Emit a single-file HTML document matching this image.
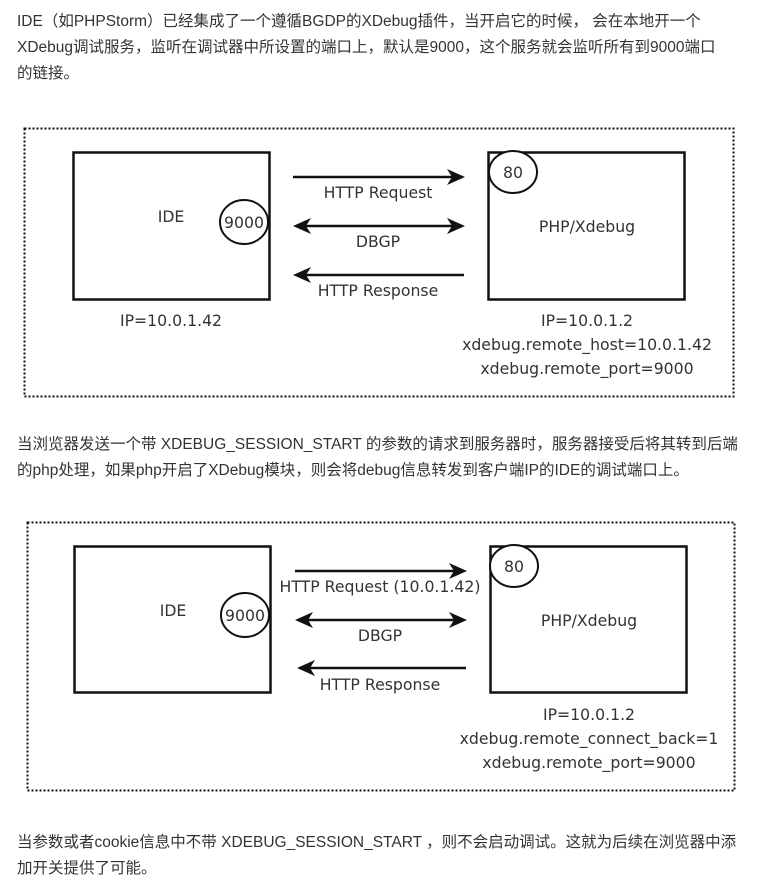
<!DOCTYPE html>
<html><head><meta charset="utf-8"><style>
html,body{margin:0;padding:0;background:#fff;width:761px;height:889px;overflow:hidden;position:relative}
.t{position:absolute;left:17px;font-family:"Liberation Sans","Noto Sans CJK SC",sans-serif;font-size:15.5px;color:#333;white-space:nowrap;line-height:20px}
svg{position:absolute;left:0;top:0}
svg text{font-family:"DejaVu Sans","Liberation Sans",sans-serif;font-size:15.7px;fill:#333}
</style></head><body>
<div class="t" style="top:12px">IDE（如PHPStorm）已经集成了一个遵循BGDP的XDebug插件，当开启它的时候， 会在本地开一个</div>
<div class="t" style="top:38px">XDebug调试服务，监听在调试器中所设置的端口上，默认是9000，这个服务就会监听所有到9000端口</div>
<div class="t" style="top:64px">的链接。</div>
<div class="t" style="top:435px">当浏览器发送一个带 XDEBUG_SESSION_START 的参数的请求到服务器时，服务器接受后将其转到后端</div>
<div class="t" style="top:461px">的php处理，如果php开启了XDebug模块，则会将debug信息转发到客户端IP的IDE的调试端口上。</div>
<div class="t" style="top:833px">当参数或者cookie信息中不带 XDEBUG_SESSION_START ，则不会启动调试。这就为后续在浏览器中添</div>
<div class="t" style="top:859px">加开关提供了可能。</div>
<svg width="761" height="889" viewBox="0 0 761 889">
<g stroke="#111" fill="none">
<rect x="24.5" y="128.5" width="709" height="268" stroke-width="2" stroke-dasharray="2,2"/>
<rect x="73.5" y="152.5" width="196" height="147" stroke-width="2.5"/>
<rect x="488.5" y="152.5" width="196" height="147" stroke-width="2.5"/>
<ellipse cx="244" cy="222" rx="24" ry="22" stroke-width="2" fill="#fff"/>
<ellipse cx="513" cy="172" rx="24" ry="21" stroke-width="2" fill="#fff"/>
<line x1="293" y1="177" x2="460" y2="177" stroke-width="2.5"/>
<line x1="298" y1="226" x2="460" y2="226" stroke-width="2.5"/>
<line x1="298" y1="275" x2="464" y2="275" stroke-width="2.5"/>
<rect x="27.5" y="522.5" width="707" height="268" stroke-width="2" stroke-dasharray="2,2"/>
<rect x="74.5" y="546.5" width="196" height="146" stroke-width="2.5"/>
<rect x="490.5" y="546.5" width="196" height="146" stroke-width="2.5"/>
<ellipse cx="245" cy="615" rx="24" ry="22" stroke-width="2" fill="#fff"/>
<ellipse cx="514" cy="566" rx="24" ry="21" stroke-width="2" fill="#fff"/>
<line x1="295" y1="571" x2="462" y2="571" stroke-width="2.5"/>
<line x1="300" y1="620" x2="462" y2="620" stroke-width="2.5"/>
<line x1="300" y1="668" x2="466" y2="668" stroke-width="2.5"/>
</g>
<g fill="#111">
<path d="M465 177 L447 169 L452 177 L447 185 Z"/>
<path d="M465 226 L447 218 L452 226 L447 234 Z"/>
<path d="M293 226 L311 218 L306 226 L311 234 Z"/>
<path d="M293 275 L311 267 L306 275 L311 283 Z"/>
<path d="M467 571 L449 563 L454 571 L449 579 Z"/>
<path d="M467 620 L449 612 L454 620 L449 628 Z"/>
<path d="M295 620 L313 612 L308 620 L313 628 Z"/>
<path d="M297 668 L315 660 L310 668 L315 676 Z"/>
</g>
<g text-anchor="middle">
<text x="171" y="222">IDE</text>
<text x="244" y="228">9000</text>
<text x="513" y="178">80</text>
<text x="587" y="232">PHP/Xdebug</text>
<text x="378" y="198">HTTP Request</text>
<text x="378" y="247">DBGP</text>
<text x="378" y="296">HTTP Response</text>
<text x="171" y="326">IP=10.0.1.42</text>
<text x="587" y="326">IP=10.0.1.2</text>
<text x="587" y="350">xdebug.remote_host=10.0.1.42</text>
<text x="587" y="374">xdebug.remote_port=9000</text>

<text x="173" y="616">IDE</text>
<text x="245" y="621">9000</text>
<text x="514" y="572">80</text>
<text x="589" y="626">PHP/Xdebug</text>
<text x="380" y="592">HTTP Request (10.0.1.42)</text>
<text x="380" y="641">DBGP</text>
<text x="380" y="690">HTTP Response</text>
<text x="589" y="720">IP=10.0.1.2</text>
<text x="589" y="744">xdebug.remote_connect_back=1</text>
<text x="589" y="768">xdebug.remote_port=9000</text>
</g>
</svg>
</body></html>
